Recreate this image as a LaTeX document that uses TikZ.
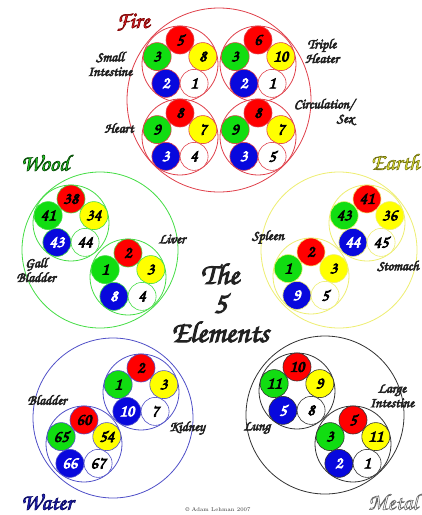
\documentclass[tikz,border=0pt]{standalone}
\usepackage{fontspec}
\newfontfamily\chor{texgyrechorus-mediumitalic.otf}
\usetikzlibrary{calc}
\definecolor{cfire}{HTML}{E0404A}
\definecolor{cwood}{HTML}{44DD44}
\definecolor{cearth}{HTML}{EEEE70}
\definecolor{cwater}{HTML}{5050C8}
\definecolor{cmetal}{HTML}{333333}
\definecolor{bred}{HTML}{FF0000}
\definecolor{bgreen}{HTML}{11DD11}
\definecolor{byellow}{HTML}{FFFF00}
\definecolor{bblue}{HTML}{0808DD}
\definecolor{tfire}{HTML}{EE1C24}
\definecolor{twood}{HTML}{22DD22}
\definecolor{tearth}{HTML}{EEEE33}
\definecolor{twater}{HTML}{1E1EC0}
\definecolor{ink}{HTML}{222222}

% stroke-and-fill text (text render mode 2) for a heavier brush look
\newcommand\strk[2]{\special{pdf:literal direct #1 RG #2 w 2 Tr}}
\newcommand\unstrk{\special{pdf:literal direct 0 Tr}}
% outlined title: fill colour, stroke rgb, stroke width, text
\newcommand\otitle[4]{{\color{#1}\strk{#2}{#3}#4\unstrk}}

\tikzset{
 outer/.style={circle, draw, line width=0.8pt, inner sep=0pt},
 clusc/.style={circle, draw, line width=0.8pt, minimum size=76pt, inner sep=0pt},
 ball/.style={circle, line width=0.6pt, minimum size=28pt, inner sep=0pt, text=black,
   font=\chor\fontsize{17}{17}\selectfont,
   execute at begin node={\strk{0 0 0}{0.7}}, execute at end node={\unstrk}},
 bballtext/.style={text=white, execute at begin node={\strk{1 1 1}{0.7}}},
 organ/.style={font=\chor\fontsize{14}{14.5}\selectfont, align=center, text=ink,
   execute at begin node={\strk{0.13 0.13 0.13}{0.6}}, execute at end node={\unstrk}},
 title/.style={font=\chor\fontsize{23}{23}\selectfont, inner sep=0pt},
}

\newcommand\clus[9]{%
 \begin{scope}[shift={(#2,#3)}]
 \node[clusc, draw=#4] (#1) at (0,0) {};
 \node[ball, fill=bred, draw=#4] (#1-r) at (0,-24) {#5};
 \node[ball, fill=bgreen, draw=#4] (#1-g) at (-22.8,-7.4) {#6};
 \node[ball, fill=byellow, draw=#4] (#1-y) at (22.8,-7.4) {#7};
 \node[ball, bballtext, fill=bblue, draw=#4] (#1-b) at (-14.1,19.4) {#8};
 \node[ball, fill=white, draw=#4] (#1-w) at (14.1,19.4) {#9};
 \end{scope}}

\begin{document}
\begin{tikzpicture}[x=1pt,y=-1pt]
\useasboundingbox[fill=white] (0,0) rectangle (422,515);

% Fire
\node[outer, draw=cfire, minimum size=184pt] (fire) at (219,100) {};
\clus{si}{180}{64}{cfire}{5}{3}{8}{2}{1}
\clus{th}{258}{64}{cfire}{6}{3}{10}{2}{1}
\clus{he}{180}{137}{cfire}{8}{9}{7}{3}{4}
\clus{cs}{258}{137}{cfire}{8}{9}{7}{3}{5}
\node[title] (firet) at (133,22) {\otitle{tfire}{0.5 0.03 0.03}{0.7}{Fire}};
\node[organ] (lsi) at (110,64) {Small\\Intestine};
\node[organ] (lth) at (322,51) {Triple\\Heater};
\node[organ] (lhe) at (119,128) {Heart};
\node[organ, align=right] (lcs) at (324,112) {Circulation/\\Sex};

% Wood
\node[outer, draw=cwood, minimum size=156pt] (wood) at (100,250) {};
\clus{gb}{71}{223}{cwood}{38}{41}{34}{43}{44}
\clus{lv}{128}{277}{cwood}{2}{1}{3}{8}{4}
\node[title] (woodt) at (45,163) {\otitle{twood}{0.04 0.3 0.04}{0.7}{Wood}};
\node[organ] (lgb) at (36,270) {Gall\\Bladder};
\node[organ] (llv) at (172,239) {Liver};

% Earth
\node[outer, draw=cearth, minimum size=156pt] (earth) at (339,250) {};
\clus{st}{367}{223}{cearth}{41}{43}{36}{44}{45}
\clus{sp}{311}{276}{cearth}{2}{1}{3}{9}{5}
\node[title] (eartht) at (395,162) {\otitle{tearth}{0.45 0.45 0.08}{0.6}{Earth}};
\node[organ] (lsp) at (268,237) {Spleen};
\node[organ] (lst) at (398,266) {Stomach};

% Water
\node[outer, draw=cwater, minimum size=160pt] (water) at (113,418) {};
\clus{kd}{141}{392}{cwater}{2}{1}{3}{10}{7}
\clus{bl}{84}{444}{cwater}{60}{65}{54}{66}{67}
\node[title] (watert) at (47,502) {\otitle{twater}{0.05 0.05 0.4}{0.7}{Water}};
\node[organ] (lbl) at (47,400) {Bladder};
\node[organ] (lkd) at (187,428) {Kidney};

% Metal
\node[outer, draw=cmetal, minimum size=158pt] (metal) at (325,415) {};
\clus{lu}{297}{391}{cmetal}{10}{11}{9}{5}{8}
\clus{li}{353}{444}{cmetal}{5}{3}{11}{2}{1}
\node[title] (metalt) at (393,502) {\otitle{white}{0.4 0.4 0.4}{0.6}{Metal}};
\node[organ] (llu) at (257,428) {Lung};
\node[organ] (lli) at (392,396) {Large\\Intestine};

% Centre
\node[font=\chor\fontsize{30}{29}\selectfont, align=center, text=ink,
  execute at begin node={\strk{0.13 0.13 0.13}{1.0}}, execute at end node={\unstrk}] (centre) at (220,303) {The\\5\\Elements};
\node[font=\fontsize{5.5}{6}\selectfont, text=black!80] (copy) at (218,510) {\textcopyright{} Adam Lehman 2007};
\end{tikzpicture}
\end{document}
